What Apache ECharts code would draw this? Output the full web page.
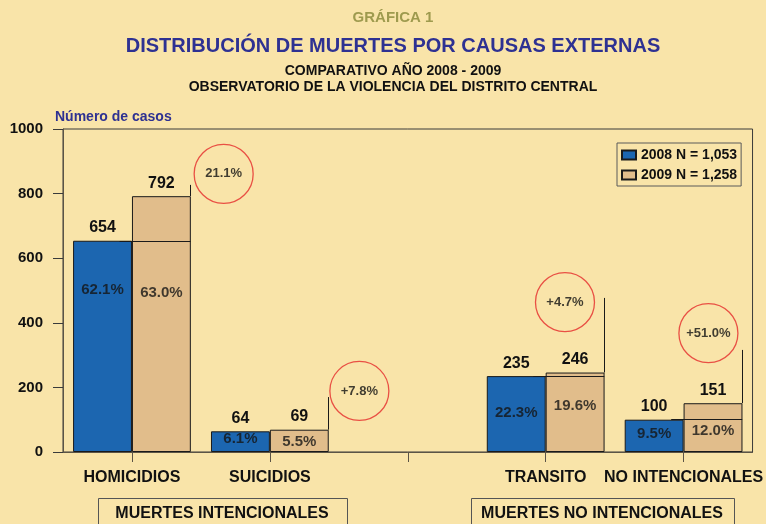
<!DOCTYPE html>
<html>
<head>
<meta charset="utf-8">
<script src="https://cdn.jsdelivr.net/npm/echarts@6/dist/echarts.min.js"></script>
<style>
  html, body { margin: 0; padding: 0; background: #F9E4A9; }
  #chart { width: 766px; height: 524px; }
</style>
</head>
<body>
<div id="chart"></div>
<script>
// datos de la grafica
var categories = ['HOMICIDIOS', 'SUICIDIOS', '', 'TRANSITO', 'NO INTENCIONALES'];
var casos2008 = [654, 64, null, 235, 100];
var casos2009 = [792, 69, null, 246, 151];
var pct2008 = ['62.1%', '6.1%', '', '22.3%', '9.5%'];
var pct2009 = ['63.0%', '5.5%', '', '19.6%', '12.0%'];
var cambio = ['21.1%', '+7.8%', '', '+4.7%', '+51.0%'];
var legendNames = ['2008 N = 1,053', '2009 N = 1,258'];

// ubicacion de las anotaciones (en unidades del eje)
var pctAt2008 = [501, 40, null, 121, 56];
var pctAt2009 = [492, 31, null, 142, 65];
var circleAt = [[0.665, 861], [1.649, 189], null, [3.14, 464], [4.18, 368]];
var leaderTop = [827, 170, null, 477, 316];

var FONT = '"Liberation Sans", Arial, sans-serif';
var barOff = 0.2135, edgeOff = 0.425;

var pctData = [], circleData = [], leaderData = [];
for (var i = 0; i < categories.length; i++) {
	if (casos2008[i] == null) continue;
	pctData.push({ name: pct2008[i], value: [i - barOff, pctAt2008[i]] });
	pctData.push({ name: pct2009[i], value: [i + barOff, pctAt2009[i]] });
	circleData.push({ name: cambio[i], value: circleAt[i] });
	//linea vertical al lado del circulo
	leaderData.push({ coords: [[i + edgeOff, leaderTop[i]], [i + edgeOff, casos2009[i]]] });
	//nivel 2008 sobre la barra 2009
	if (casos2009[i] - casos2008[i] > 8) {
		leaderData.push({ coords: [[i - 0.09, casos2008[i]], [i + edgeOff, casos2008[i]]] });
	}
}

function txt(x, y, text, size, color) {
	return {
		type: 'text', x: x, y: y, silent: true,
		style: {
			text: text, font: 'bold ' + size + 'px ' + FONT, fill: color,
			align: 'center', verticalAlign: 'middle', textAlign: 'center', textVerticalAlign: 'middle'
		}
	};
}

var myChart = echarts.init(document.getElementById('chart'));
myChart.setOption({
	backgroundColor: '#F9E4A9',
	animation: false,
	textStyle: { fontFamily: FONT },
	grid: {
		left: 63, right: 12, top: 129, bottom: 72,
		show: true, borderColor: '#3a3a3a', borderWidth: 1
	},
	legend: {
		data: legendNames,
		orient: 'vertical',
		left: 617, top: 143,
		itemWidth: 14, itemHeight: 9, itemGap: 6,
		padding: [5, 4, 4, 4],
		borderColor: '#5a5a5a', borderWidth: 1,
		icon: 'rect',
		textStyle: { fontWeight: 'bold', fontSize: 14, color: '#111', fontFamily: FONT }
	},
	xAxis: [{
		type: 'category',
		data: categories,
		axisLine: { onZero: false, lineStyle: { color: '#5b5446' } },
		axisTick: { show: true, alignWithLabel: true, length: 10, lineStyle: { color: '#5b5446', width: 1 } },
		axisLabel: { color: '#111', fontWeight: 'bold', fontSize: 16, margin: 18, interval: 0 }
	}, {
		type: 'value', min: -0.5, max: 4.5, show: false
	}],
	yAxis: {
		type: 'value', min: 0, max: 1000, interval: 200,
		axisLine: { show: true, onZero: false, lineStyle: { color: '#5b5446' } },
		axisTick: { show: true, length: 10, lineStyle: { color: '#3a3a3a' } },
		axisLabel: {
			color: '#111', fontWeight: 'bold', fontSize: 15, margin: 20,
			formatter: function (v) { return String(v); }
		},
		splitLine: { show: false }
	},
	series: [{
		name: legendNames[0], type: 'bar', data: casos2008,
		barGap: 0, barCategoryGap: '14.6%',
		itemStyle: { color: '#1C66B0', borderColor: '#1a1a1a', borderWidth: 1 },
		label: { show: true, position: 'top', distance: 5, color: '#111', fontWeight: 'bold', fontSize: 16 }
	}, {
		name: legendNames[1], type: 'bar', data: casos2009,
		itemStyle: { color: '#E1BD8B', borderColor: '#1a1a1a', borderWidth: 1 },
		label: { show: true, position: 'top', distance: 5, color: '#111', fontWeight: 'bold', fontSize: 16 }
	}, {
		type: 'lines', coordinateSystem: 'cartesian2d', xAxisIndex: 1, yAxisIndex: 0,
		data: leaderData, silent: true, z: 5,
		lineStyle: { color: '#1a1a1a', width: 1, opacity: 1 }
	}, {
		type: 'scatter', xAxisIndex: 1, data: pctData, symbolSize: 0, silent: true, z: 6,
		label: {
			show: true, position: 'inside', color: '#151515', fontWeight: 'bold', fontSize: 15,
			formatter: function (p) { return p.name; }
		}
	}, {
		type: 'scatter', xAxisIndex: 1, data: circleData, symbol: 'circle', symbolSize: 59, silent: true, z: 6,
		itemStyle: { color: 'rgba(0,0,0,0)', borderColor: '#E52A2A', borderWidth: 1.3 },
		label: {
			show: true, position: 'inside', color: '#111', fontWeight: 'bold', fontSize: 13,
			formatter: function (p) { return p.name; }
		}
	}],
	graphic: [
		txt(393, 18, 'GRÁFICA 1', 15, '#9E9A4E'),
		txt(393, 46, 'DISTRIBUCIÓN DE MUERTES POR CAUSAS EXTERNAS', 20, '#2E3192'),
		txt(393, 71, 'COMPARATIVO AÑO 2008 - 2009', 14, '#111'),
		txt(393, 87, 'OBSERVATORIO DE LA VIOLENCIA DEL DISTRITO CENTRAL', 14, '#111'),
		{
			type: 'text', x: 55, y: 117, silent: true,
			style: { text: 'Número de casos', font: 'bold 14px ' + FONT, fill: '#2E3192', align: 'left', verticalAlign: 'middle', textVerticalAlign: 'middle' }
		},
		{ type: 'rect', shape: { x: 98.5, y: 498.5, width: 249, height: 40 }, style: { fill: 'none', stroke: '#555', lineWidth: 1 }, silent: true },
		txt(222, 514, 'MUERTES INTENCIONALES', 16, '#111'),
		{ type: 'rect', shape: { x: 471.5, y: 498.5, width: 263, height: 40 }, style: { fill: 'none', stroke: '#555', lineWidth: 1 }, silent: true },
		txt(602, 514, 'MUERTES NO INTENCIONALES', 16, '#111')
	]
});
</script>
</body>
</html>
